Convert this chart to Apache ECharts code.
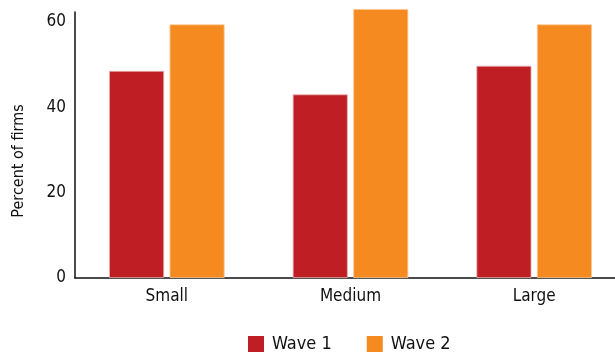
<!DOCTYPE html>
<html><head><meta charset="utf-8">
<script src="https://cdn.jsdelivr.net/npm/echarts@6/dist/echarts.min.js"></script>
<style>html,body{margin:0;padding:0;background:#fff}#c{width:615px;height:354px}</style>
</head><body><div id="c"></div>
<script>
const categories = ["Small", "Medium", "Large"];
const wave1 = [48.5, 43.0, 49.7];
const wave2 = [59.4, 63.0, 59.4];
const seriesNames = ["Wave 1", "Wave 2"];
const FONT = "DejaVu Sans Condensed";
const chart = echarts.init(document.getElementById('c'));
chart.setOption({
  animation: false,
  textStyle: {fontFamily: FONT},
  grid: {left: 75, width: 551, top: 12, bottom: 76, outerBoundsMode: 'none', containLabel: false},
  legend: {
    bottom: 1, left: 248, padding: 0, itemWidth: 16, itemHeight: 16, itemGap: 35,
    icon: 'rect',
    itemStyle: {borderWidth: 0},
    textStyle: {fontFamily: FONT, fontSize: 18, color: '#111', padding: [0, 0, 0, 3]},
    data: seriesNames
  },
  xAxis: {
    type: 'category', data: categories,
    axisLine: {lineStyle: {color: '#111', width: 1.5}},
    axisTick: {show: false},
    axisLabel: {fontFamily: FONT, fontSize: 17, color: '#111', margin: 10}
  },
  yAxis: {
    type: 'value', min: 0, max: 62.3, interval: 20,
    name: 'Percent of firms', nameLocation: 'middle', nameGap: 48,
    nameTextStyle: {fontFamily: FONT, fontSize: 16, color: '#111', padding: [0, 32, 0, 0]},
    axisLine: {show: true, lineStyle: {color: '#111', width: 1.5}},
    axisTick: {show: false},
    splitLine: {show: false},
    axisLabel: {fontFamily: FONT, fontSize: 17, color: '#111', margin: 9, showMaxLabel: false}
  },
  series: [
    {name: seriesNames[0], type: 'bar', data: wave1, barWidth: 55, barGap: '10%', clip: false,
     itemStyle: {color: '#BE1E24', borderColor: '#eab0b2', borderWidth: 0.8}},
    {name: seriesNames[1], type: 'bar', data: wave2, barWidth: 55, clip: false,
     itemStyle: {color: '#F58B20', borderColor: '#fcc896', borderWidth: 0.8}}
  ]
});
</script></body></html>
